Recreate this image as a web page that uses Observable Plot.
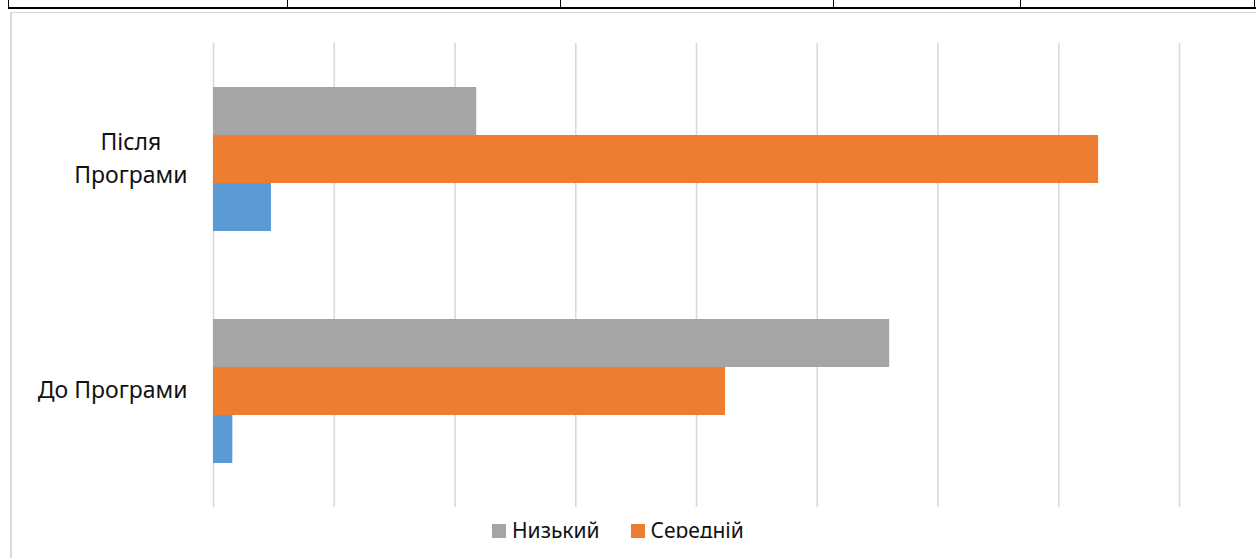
<!DOCTYPE html>
<html>
<head>
<meta charset="utf-8">
<script src="https://cdn.jsdelivr.net/npm/d3@7"></script>
<script src="https://cdn.jsdelivr.net/npm/@observablehq/plot@0.6"></script>
<style>
  html, body { margin: 0; padding: 0; background: #fff; }
  #page { position: relative; width: 1256px; height: 558px; overflow: hidden; font-family: "Noto Sans", sans-serif; }
  .rule { position: absolute; background: #000; }
  .frame { position: absolute; background: #d9d9d9; }
  #chart { position: absolute; left: 0; top: 0; }
  #legend-clip { position: absolute; left: 492px; top: 515px; width: 270px; height: 22.5px; overflow: hidden; }
  #legend { display: flex; flex-wrap: wrap; column-gap: 31px; row-gap: 6px; }
  .item { display: flex; align-items: flex-start; font-size: 21px; line-height: 21px; color: #111; margin-top: 5px; }
  .swatch { width: 14px; height: 14px; margin-top: 4px; margin-right: 6px; flex: none; }
</style>
</head>
<body>
<div id="page">
  <!-- table rules of the surrounding document -->
  <div class="rule" style="left:8px; top:7px; width:1248px; height:2px"></div>
  <div class="rule" style="left:8px; top:0; width:1px; height:8px"></div>
  <div class="rule" style="left:287px; top:0; width:1px; height:8px"></div>
  <div class="rule" style="left:560px; top:0; width:1px; height:8px"></div>
  <div class="rule" style="left:833px; top:0; width:1px; height:8px"></div>
  <div class="rule" style="left:1020px; top:0; width:1px; height:8px"></div>
  <div class="rule" style="left:1254px; top:0; width:1px; height:8px"></div>
  <!-- chart area border -->
  <div class="frame" style="left:10px; top:12px; width:1246px; height:1px"></div>
  <div class="frame" style="left:10px; top:12px; width:1.5px; height:546px"></div>
  <div id="chart"></div>
  <div id="legend-clip"><div id="legend"></div></div>
</div>
<script>
// Groups (top to bottom) and the three levels shown in each group
const categories = ["Після Програми", "До Програми"];
const series = ["Низький", "Середній", "Високий"];
const afterValues = [21.8, 73.3, 4.8];   // Після Програми, %
const beforeValues = [56.0, 42.4, 1.6];  // До Програми, %
const colors = ["#a5a5a5", "#ed7d31", "#5b9bd5"];
const xTicks = [0, 10, 20, 30, 40, 50, 60, 70, 80];

const valuesByCategory = [afterValues, beforeValues];
const rows = categories.flatMap((category, i) =>
  series.map((s, j) => ({category, series: s, value: valuesByCategory[i][j]}))
);

const labelFont = 23;
const fontFamily = '"Noto Sans", sans-serif';

// Wrap category labels the way the category axis does, measuring real text widths
const ctx = document.createElement("canvas").getContext("2d");
ctx.font = `${labelFont}px ${fontFamily}`;
const maxLabelWidth = 165;
function wrap(label) {
  const words = label.split(" ");
  const lines = [];
  let line = "";
  for (const w of words) {
    const test = line ? line + " " + w : w;
    if (line && ctx.measureText(test).width > maxLabelWidth) { lines.push(line); line = w; }
    else line = test;
  }
  if (line) lines.push(line);
  return lines;
}

const labelGap = 26; // space between label block and the value axis
const labelAxes = categories.map((c) => {
  const lines = wrap(c);
  const w = d3.max(lines, (l) => ctx.measureText(l).width);
  return Plot.axisFy({
    anchor: "left",
    ticks: [c],
    label: null,
    tickSize: 0,
    tickPadding: labelGap + w / 2,
    textAnchor: "middle",
    lineHeight: 1.45,
    fontSize: labelFont,
    fill: "#111",
    dy: -4,
    tickFormat: () => lines.join("\n")
  });
});

const chart = Plot.plot({
  width: 1256,
  height: 512,
  marginLeft: 213,
  marginRight: 77,
  marginTop: 43,
  marginBottom: 5,
  style: {background: "transparent", fontFamily, fontSize: `${labelFont}px`, overflow: "visible"},
  x: {domain: [0, 80], axis: null},
  y: {domain: series, paddingInner: 0, paddingOuter: 0.9167, round: false, axis: null},
  fy: {domain: categories, padding: 0, round: false, axis: null},
  color: {domain: series, range: colors},
  marks: [
    Plot.gridX(xTicks, {stroke: "#d9d9d9", strokeOpacity: 1, strokeWidth: 1.6}),
    Plot.barX(rows, {x: "value", y: "series", fy: "category", fill: "series"}),
    ...labelAxes
  ]
});
document.getElementById("chart").append(chart);

// Legend row
const legend = d3.select("#legend");
series.forEach((s, i) => {
  const item = legend.append("div").attr("class", "item");
  item.append("span").attr("class", "swatch").style("background", colors[i]);
  item.append("span").text(s);
});
</script>
</body>
</html>
